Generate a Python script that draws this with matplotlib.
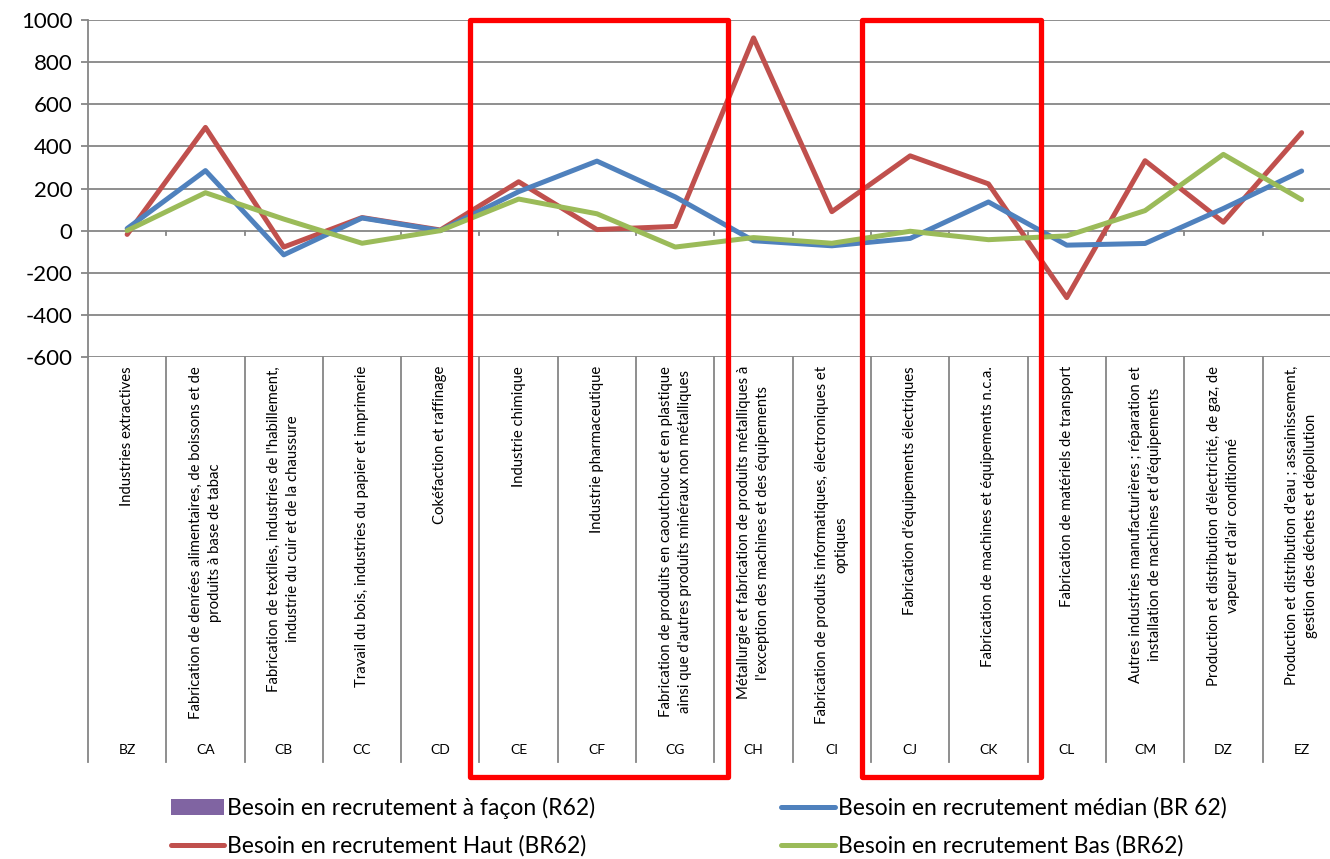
import numpy as np
import matplotlib
matplotlib.use("Agg")
import matplotlib.pyplot as plt
from matplotlib.patches import Rectangle
from matplotlib.transforms import blended_transform_factory

plt.rcParams["font.family"] = ["Lato", "DejaVu Sans"]

# --- data -----------------------------------------------------------------
codes = ["BZ", "CA", "CB", "CC", "CD", "CE", "CF", "CG",
         "CH", "CI", "CJ", "CK", "CL", "CM", "DZ", "EZ"]
labels = [
    "Industries extractives",
    "Fabrication de denrées alimentaires, de boissons et de\nproduits à base de tabac",
    "Fabrication de textiles, industries de l'habillement,\nindustrie du cuir et de la chaussure",
    "Travail du bois, industries du papier et imprimerie",
    "Cokéfaction et raffinage",
    "Industrie chimique",
    "Industrie pharmaceutique",
    "Fabrication de produits en caoutchouc et en plastique\nainsi que d'autres produits minéraux non métalliques",
    "Métallurgie et fabrication de produits métalliques à\nl'exception des machines et des équipements",
    "Fabrication de produits informatiques, électroniques et\noptiques",
    "Fabrication d'équipements électriques",
    "Fabrication de machines et équipements n.c.a.",
    "Fabrication de matériels de transport",
    "Autres industries manufacturières ; réparation et\ninstallation de machines et d'équipements",
    "Production et distribution d'électricité, de gaz, de\nvapeur et d'air conditionné",
    "Production et distribution d'eau ; assainissement,\ngestion des déchets et dépollution",
]
facon = [np.nan] * len(codes)  # no visible values for this series
median = [10, 285, -115, 60, 0, 185, 330, 160, -48, -72, -37, 136, -69, -61, 105, 283]
haut = [-18, 490, -78, 62, 3, 232, 5, 20, 915, 90, 355, 222, -318, 332, 40, 465]
bas = [0, 180, 55, -60, 0, 150, 80, -78, -33, -60, -3, -43, -25, 95, 362, 147]
highlights = [("CE", "CG"), ("CJ", "CK")]

yticks = np.arange(-600, 1001, 200)
grey = "#868686"

fig = plt.figure(figsize=(13.3, 8.59), dpi=100)
W, H = 1330, 859
ax = fig.add_axes([88 / W, 1 - 357 / H, (16 * 78.3) / W, 337 / H])

x = np.arange(len(codes))
h_facon = ax.bar(x, facon, width=0.6, color="#8064A2",
                 label="Besoin en recrutement à façon (R62)")
line_kw = dict(lw=3.6, solid_joinstyle="round", solid_capstyle="round")
h_haut, = ax.plot(x, haut, color="#C0504D", label="Besoin en recrutement Haut (BR62)",
                  zorder=3, **line_kw)
h_med, = ax.plot(x, median, color="#4F81BD", label="Besoin en recrutement médian (BR 62)",
                 zorder=3, **line_kw)
h_bas, = ax.plot(x, bas, color="#9BBB59", label="Besoin en recrutement Bas (BR62)",
                 zorder=4, **line_kw)

ax.set_xlim(-0.5, len(codes) - 0.5)
ax.set_ylim(-600, 1000)
ax.set_yticks(yticks)
ax.set_yticklabels([str(v) for v in yticks], fontsize=16)
ax.tick_params(axis="y", length=5, color=grey, width=1.3, pad=6)
ax.set_xticks([])
ax.grid(axis="y", color=grey, lw=1.3)
ax.set_axisbelow(True)
for side in ("top", "right", "bottom"):
    ax.spines[side].set_visible(False)
ax.spines["left"].set_color(grey)
ax.spines["left"].set_linewidth(1.3)

# small tick marks on the zero line at category boundaries
tr = blended_transform_factory(ax.transData, ax.transAxes)
bounds = np.arange(len(codes) + 1) - 0.5
zero_ax = 600 / 1600
for b in bounds[1:-1]:
    ax.plot([b, b], [zero_ax, zero_ax - 0.013], color=grey, lw=1.3,
            transform=tr, clip_on=False)

# category label area below the plot
lab_bottom = -(762 - 357) / 337
for b in bounds:
    ax.plot([b, b], [0, lab_bottom], color=grey, lw=1.3, transform=tr, clip_on=False)
for i, (c, lab) in enumerate(zip(codes, labels)):
    ax.text(i, -(366 - 357) / 337, lab, transform=tr, rotation=90, ha="center",
            va="top", multialignment="center", fontsize=10.7, linespacing=1.45)
    ax.text(i, -(750 - 357) / 337, c, transform=tr, ha="center", va="center",
            fontsize=10)

# red highlight frames
for start, end in highlights:
    i0, i1 = codes.index(start), codes.index(end)
    x0, x1 = i0 - 0.62, i1 + 0.67
    y0 = -(777 - 357) / 337
    ax.add_patch(Rectangle((x0, y0), x1 - x0, 1 - y0, transform=tr, fill=False,
                           edgecolor="#FF0000", lw=3.8, joinstyle="round",
                           clip_on=False, zorder=6))

handles = [h_facon, h_haut, h_med, h_bas]
names = [h.get_label() for h in handles]
fig.legend(handles, names, loc="upper left", bbox_to_anchor=(150 / W, 1 - 776 / H),
           ncol=2, frameon=False, fontsize=16.5, handlelength=2.35, handletextpad=0.12,
           columnspacing=8.1, labelspacing=0.72)

fig.savefig("out.png", dpi=100)
